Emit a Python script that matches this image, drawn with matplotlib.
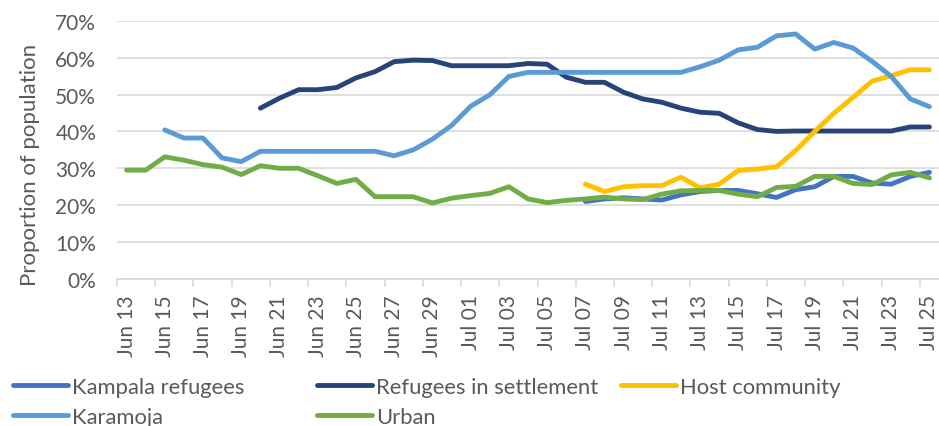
import numpy as np
import matplotlib.pyplot as plt

# x categories: daily from Jun 13 to Jul 25
dates = ['Jun %02d' % d for d in range(13, 31)] + ['Jul %02d' % d for d in range(1, 26)]

nan = np.nan

kampala = [nan] * 24 + [21.0, 21.7, 22.0, 21.7, 21.4, 22.8, 23.7, 24.0, 24.0, 23.1,
                        22.1, 24.2, 25.0, 27.8, 27.8, 26.0, 25.7, 27.8, 28.9]

settlement = [nan] * 7 + [46.3, 49.0, 51.3, 51.3, 51.9, 54.5, 56.2, 58.9, 59.3, 59.2,
                          57.8, 57.8, 57.8, 57.8, 58.4, 58.2, 54.7, 53.3, 53.3, 50.6,
                          48.8, 47.9, 46.3, 45.2, 44.9, 42.3, 40.5, 40.0, 40.1, 40.1,
                          40.1, 40.1, 40.1, 40.1, 41.2, 41.2]

host = [nan] * 24 + [25.7, 23.7, 25.0, 25.3, 25.3, 27.6, 24.7, 25.7, 29.4, 29.8,
                     30.4, 34.8, 40.0, 44.9, 49.2, 53.6, 55.1, 56.7, 56.7]

karamoja = [nan] * 2 + [40.4, 38.2, 38.2, 32.8, 31.8, 34.6, 34.6, 34.6, 34.6, 34.6,
                        34.6, 34.6, 33.4, 35.0, 37.9, 41.6, 46.8, 49.9, 54.9, 56.0,
                        56.0, 56.0, 56.0, 56.0, 56.0, 56.0, 56.0, 56.0, 57.5,
                        59.3, 62.1, 62.8, 65.9, 66.4, 62.3, 64.1, 62.6, 59.0, 54.9,
                        48.8, 46.7]

urban = [29.5, 29.5, 33.1, 32.2, 31.0, 30.3, 28.3, 30.7, 30.0, 30.0, 28.0, 25.9, 27.0,
         22.3, 22.3, 22.3, 20.6, 21.9, 22.6, 23.2, 25.0, 21.7, 20.7, 21.3, 21.7, 22.2,
         21.7, 21.5, 23.0, 23.9, 24.0, 24.0, 23.0, 22.3, 24.8, 25.1, 27.8, 27.8, 25.9,
         25.6, 28.2, 28.9, 27.4]

series = [
    ('Kampala refugees', kampala, '#4472C4'),
    ('Refugees in settlement', settlement, '#264478'),
    ('Host community', host, '#FFC000'),
    ('Karamoja', karamoja, '#5B9BD5'),
    ('Urban', urban, '#70AD47'),
]

plt.rcParams['font.family'] = ['Lato', 'DejaVu Sans']
text_col = '#595959'
grid_col = '#D9D9D9'

fig = plt.figure(figsize=(9.39, 4.27), dpi=100)
ax = fig.add_axes([117 / 939, 1 - 280 / 427, 822 / 939, (280 - 21.7) / 427])

x = np.arange(len(dates))
handles = {}
for name, vals, col in series:
    ln, = ax.plot(x, np.array(vals) / 100, color=col, lw=3.5,
                  solid_capstyle='round', solid_joinstyle='round', label=name)
    handles[name] = ln

ax.set_xlim(-0.5, len(dates) - 0.5)
ax.set_ylim(0, 0.7)
ax.set_yticks(np.arange(0, 0.71, 0.1))
ax.set_yticklabels(['%d%%' % v for v in range(0, 71, 10)])
ax.yaxis.grid(True, color=grid_col, lw=1.2)
ax.set_axisbelow(True)
ax.tick_params(axis='y', length=0, pad=15, labelsize=15, labelcolor=text_col)

# tick marks at category boundaries, labels at category centres
ax.set_xticks(np.arange(-0.5, len(dates) - 1, 2))
ax.set_xticklabels([])
ax.set_xticks(x[::2], minor=True)
ax.set_xticklabels(dates[::2], minor=True, rotation=90)
ax.tick_params(axis='x', which='major', length=6, color=grid_col, width=1.2)
ax.tick_params(axis='x', which='minor', length=0, pad=11, labelsize=15, labelcolor=text_col)

for s in ['top', 'right', 'left']:
    ax.spines[s].set_visible(False)
ax.spines['bottom'].set_color(grid_col)
ax.spines['bottom'].set_linewidth(1.2)

fig.text(30 / 939, 1 - 165 / 427, 'Proportion of population', rotation=90,
         ha='center', va='center', fontsize=16, color=text_col)

# legend: three columns laid out like the original
columns = [(['Kampala refugees', 'Karamoja'], 13),
           (['Refugees in settlement', 'Urban'], 317),
           (['Host community'], 621)]
for names, xpos in columns:
    leg = fig.legend([handles[n] for n in names], names, loc='upper left',
                     bbox_to_anchor=(xpos / 939, 1 - 378 / 427), frameon=False,
                     fontsize=15.8, handlelength=2.5, handletextpad=0.2,
                     borderpad=0, borderaxespad=0, labelspacing=0.46)
    for t in leg.get_texts():
        t.set_color(text_col)

fig.savefig('out.png', dpi=100)
